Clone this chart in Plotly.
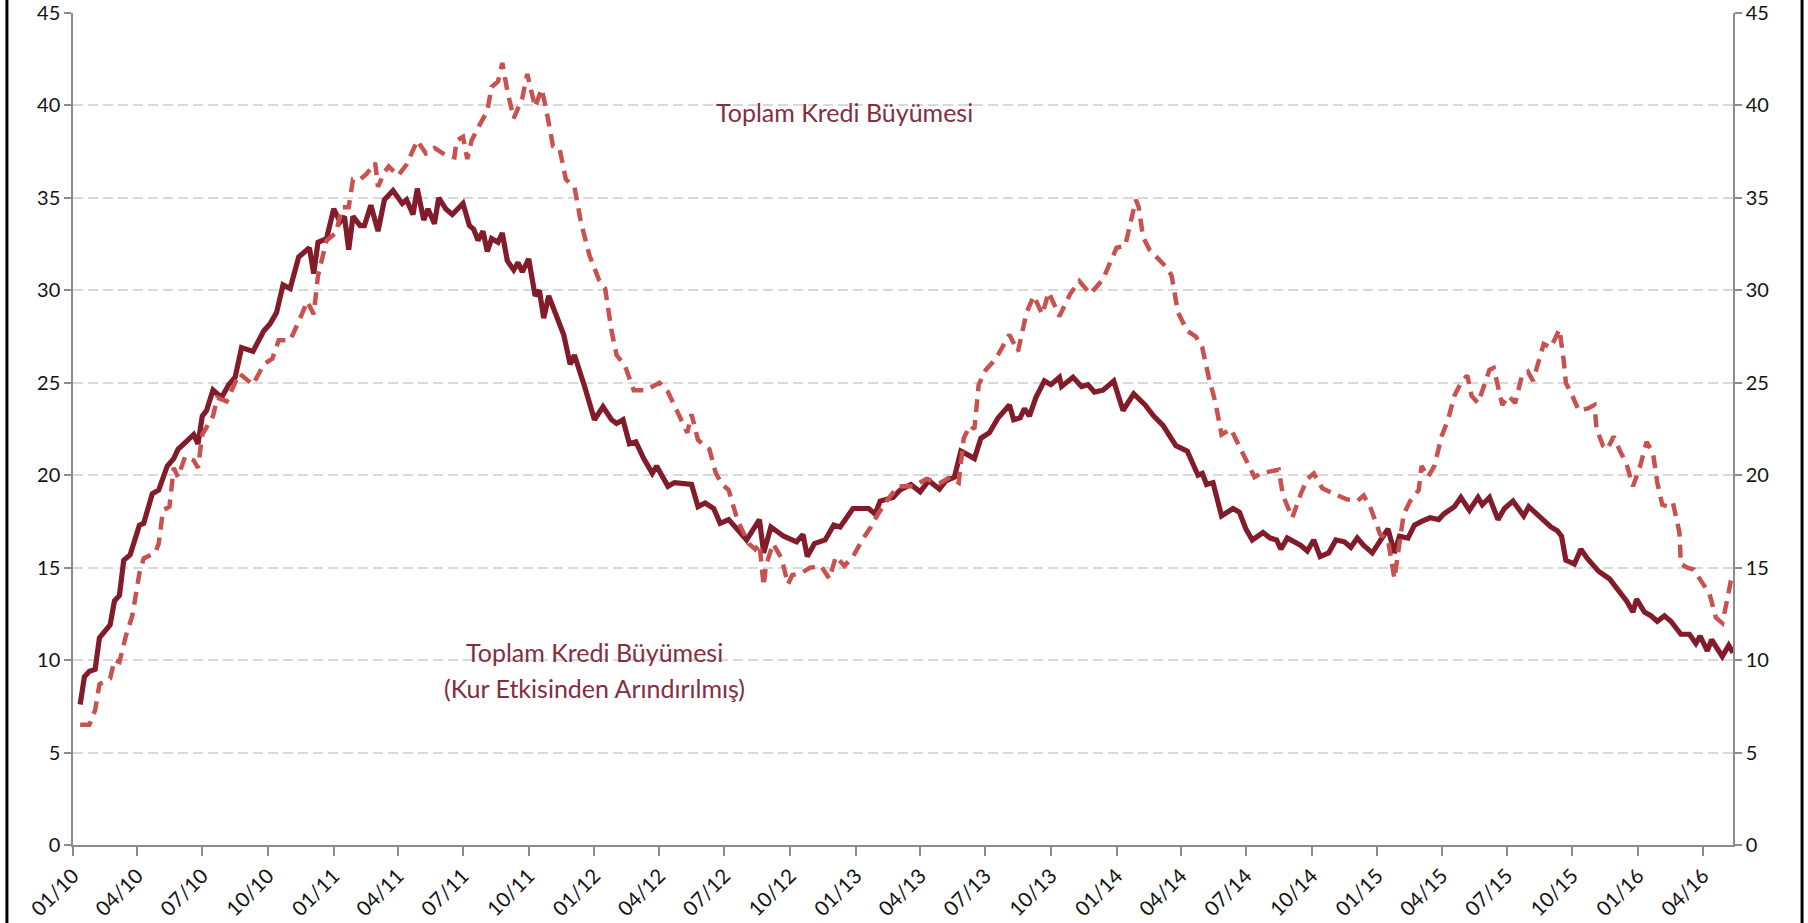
import plotly.graph_objects as go

# ---- Data: Toplam Kredi Büyümesi (Kur Etkisinden Arındırılmış) -- solid
adj_dates = [
    "2010-01-11","2010-01-17","2010-01-24","2010-02-01","2010-02-07","2010-02-22","2010-02-28","2010-03-07",
    "2010-03-13","2010-03-22","2010-04-04","2010-04-10","2010-04-22","2010-05-01","2010-05-13","2010-05-22",
    "2010-05-28","2010-06-07","2010-06-19","2010-06-25","2010-07-01","2010-07-07","2010-07-16","2010-07-28",
    "2010-08-07","2010-08-16","2010-08-25","2010-09-10","2010-09-25","2010-10-04","2010-10-13","2010-10-22",
    "2010-11-01","2010-11-13","2010-11-28","2010-12-04","2010-12-10","2010-12-22","2011-01-01","2011-01-10",
    "2011-01-16","2011-01-22","2011-01-28","2011-02-07","2011-02-13","2011-02-22","2011-03-04","2011-03-13",
    "2011-03-25","2011-04-07","2011-04-13","2011-04-22","2011-04-28","2011-05-07","2011-05-13","2011-05-22",
    "2011-05-28","2011-06-07","2011-06-16","2011-07-01","2011-07-10","2011-07-16","2011-07-22","2011-07-29",
    "2011-08-04","2011-08-10","2011-08-19","2011-08-25","2011-09-01","2011-09-10","2011-09-16","2011-09-22",
    "2011-10-01","2011-10-10","2011-10-16","2011-10-22","2011-10-29","2011-11-07","2011-11-19","2011-11-28",
    "2011-12-04","2011-12-19","2012-01-01","2012-01-13","2012-01-25","2012-02-01","2012-02-10","2012-02-19",
    "2012-02-28","2012-03-10","2012-03-22","2012-03-28","2012-04-13","2012-04-22","2012-05-07","2012-05-16",
    "2012-05-25","2012-06-04","2012-06-16","2012-06-25","2012-07-07","2012-08-01","2012-08-19","2012-08-25",
    "2012-09-04","2012-09-22","2012-10-10","2012-10-19","2012-10-25","2012-11-04","2012-11-19","2012-12-01",
    "2012-12-10","2012-12-28","2013-01-19","2013-01-28","2013-02-04","2013-02-22","2013-03-04","2013-03-19",
    "2013-04-01","2013-04-13","2013-04-28","2013-05-07","2013-05-19","2013-05-28","2013-06-07","2013-06-16",
    "2013-06-25","2013-07-07","2013-07-19","2013-08-04","2013-08-10","2013-08-19","2013-08-25","2013-09-01",
    "2013-09-10","2013-09-22","2013-10-01","2013-10-13","2013-10-16","2013-11-01","2013-11-13","2013-11-22",
    "2013-12-01","2013-12-13","2013-12-28","2014-01-10","2014-01-25","2014-02-10","2014-02-22","2014-03-07",
    "2014-03-25","2014-04-10","2014-04-25","2014-05-01","2014-05-07","2014-05-16","2014-05-28","2014-06-13",
    "2014-06-22","2014-07-01","2014-07-10","2014-07-25","2014-08-04","2014-08-13","2014-08-19","2014-08-28",
    "2014-09-16","2014-09-25","2014-10-04","2014-10-13","2014-10-25","2014-11-04","2014-11-16","2014-11-25",
    "2014-12-04","2014-12-13","2014-12-25","2015-01-05","2015-01-16","2015-01-25","2015-02-01","2015-02-13",
    "2015-02-22","2015-03-04","2015-03-16","2015-03-28","2015-04-04","2015-04-19","2015-04-28","2015-05-10",
    "2015-05-22","2015-05-28","2015-06-07","2015-06-19","2015-06-28","2015-07-10","2015-07-25","2015-08-01",
    "2015-08-13","2015-09-01","2015-09-10","2015-09-16","2015-09-22","2015-10-04","2015-10-13","2015-10-22",
    "2015-11-07","2015-11-22","2015-12-04","2015-12-16","2015-12-25","2015-12-30","2016-01-10","2016-01-19",
    "2016-01-28","2016-02-07","2016-02-16","2016-03-01","2016-03-13","2016-03-22","2016-03-28","2016-04-07",
    "2016-04-13","2016-04-28","2016-05-07","2016-05-13",
]
adj_values = [
    7.6, 9.1, 9.4, 9.5, 11.2, 11.9, 13.2, 13.5,
    15.4, 15.7, 17.3, 17.4, 19.0, 19.2, 20.5, 20.9,
    21.4, 21.8, 22.2, 21.7, 23.2, 23.5, 24.6, 24.2,
    24.9, 25.3, 26.9, 26.7, 27.8, 28.2, 28.8, 30.3,
    30.1, 31.8, 32.3, 30.9, 32.6, 32.8, 34.4, 33.7,
    34.0, 32.2, 34.0, 33.5, 33.5, 34.6, 33.2, 34.9,
    35.4, 34.7, 34.9, 34.1, 35.5, 33.8, 34.4, 33.6,
    35.0, 34.4, 34.1, 34.7, 33.5, 33.3, 32.7, 33.2,
    32.1, 32.8, 32.6, 33.1, 31.6, 31.1, 31.5, 31.0,
    31.7, 29.7, 30.0, 28.5, 29.7, 28.8, 27.6, 26.0,
    26.5, 24.7, 23.0, 23.7, 23.0, 22.8, 23.0, 21.7,
    21.8, 20.9, 20.1, 20.5, 19.4, 19.6, 19.5, 19.5,
    18.3, 18.5, 18.2, 17.4, 17.6, 16.5, 17.6, 15.8,
    17.2, 16.7, 16.4, 16.8, 15.6, 16.3, 16.5, 17.3,
    17.2, 18.2, 18.2, 17.9, 18.6, 18.8, 19.2, 19.5,
    19.1, 19.7, 19.25, 19.7, 19.9, 21.3, 21.1, 20.9,
    22.0, 22.3, 23.1, 23.8, 23.0, 23.1, 23.6, 23.2,
    24.2, 25.1, 24.9, 25.3, 24.8, 25.3, 24.8, 24.9,
    24.5, 24.6, 25.1, 23.5, 24.4, 23.8, 23.2, 22.7,
    21.6, 21.3, 20.0, 20.1, 19.5, 19.6, 17.8, 18.2,
    18.0, 17.1, 16.5, 16.9, 16.6, 16.5, 16.0, 16.6,
    16.2, 15.9, 16.5, 15.6, 15.8, 16.5, 16.4, 16.1,
    16.6, 16.2, 15.8, 16.5, 17.1, 15.8, 16.7, 16.6,
    17.3, 17.5, 17.7, 17.6, 17.9, 18.3, 18.8, 18.1,
    18.8, 18.4, 18.8, 17.6, 18.2, 18.6, 17.8, 18.3,
    17.9, 17.2, 17.0, 16.7, 15.4, 15.2, 16.0, 15.5,
    14.8, 14.4, 13.8, 13.2, 12.6, 13.3, 12.6, 12.4,
    12.1, 12.4, 12.1, 11.4, 11.4, 10.9, 11.3, 10.5,
    11.1, 10.2, 10.8, 10.4,
]

# ---- Data: Toplam Kredi Büyümesi -- dashed
tot_dates = [
    "2010-01-11","2010-01-24","2010-02-01","2010-02-07","2010-02-22","2010-02-28","2010-03-07","2010-03-16",
    "2010-03-25","2010-04-04","2010-04-10","2010-04-26","2010-05-01","2010-05-07","2010-05-16","2010-05-22",
    "2010-05-28","2010-06-07","2010-06-19","2010-06-25","2010-07-01","2010-07-07","2010-07-16","2010-07-22",
    "2010-08-04","2010-08-22","2010-09-10","2010-09-25","2010-10-07","2010-10-16","2010-11-01","2010-11-13",
    "2010-11-25","2010-12-04","2010-12-10","2010-12-22","2011-01-04","2011-01-13","2011-01-22","2011-01-28",
    "2011-02-07","2011-02-16","2011-02-28","2011-03-04","2011-03-13","2011-03-19","2011-04-01","2011-04-13",
    "2011-04-28","2011-05-10","2011-05-22","2011-06-07","2011-06-19","2011-06-22","2011-07-01","2011-07-07",
    "2011-07-13","2011-07-25","2011-08-04","2011-08-10","2011-08-19","2011-08-25","2011-09-01","2011-09-10",
    "2011-09-22","2011-09-29","2011-10-10","2011-10-19","2011-10-25","2011-11-04","2011-11-13","2011-11-22",
    "2011-12-04","2011-12-13","2011-12-25","2012-01-07","2012-01-16","2012-01-25","2012-02-01","2012-02-13",
    "2012-02-25","2012-03-13","2012-04-01","2012-04-13","2012-04-28","2012-05-10","2012-05-16","2012-05-25",
    "2012-06-10","2012-06-19","2012-06-28","2012-07-07","2012-07-19","2012-08-04","2012-08-13","2012-08-19",
    "2012-08-25","2012-08-28","2012-09-07","2012-09-19","2012-09-28","2012-10-04","2012-10-16","2012-10-29",
    "2012-11-13","2012-11-25","2012-12-04","2012-12-16","2012-12-28","2013-01-10","2013-01-22","2013-02-01",
    "2013-02-13","2013-03-01","2013-03-22","2013-04-10","2013-04-28","2013-05-13","2013-05-25","2013-06-01",
    "2013-06-10","2013-06-16","2013-06-22","2013-07-02","2013-07-16","2013-08-01","2013-08-04","2013-08-16",
    "2013-08-28","2013-09-07","2013-09-19","2013-09-28","2013-10-13","2013-10-28","2013-11-10","2013-11-25",
    "2013-12-13","2014-01-01","2014-01-13","2014-01-22","2014-01-28","2014-02-01","2014-02-07","2014-02-16",
    "2014-02-28","2014-03-13","2014-03-19","2014-03-28","2014-04-10","2014-04-22","2014-05-01","2014-05-10",
    "2014-05-19","2014-05-28","2014-06-10","2014-06-22","2014-07-04","2014-07-13","2014-07-22","2014-08-16",
    "2014-08-22","2014-09-04","2014-09-16","2014-09-25","2014-10-04","2014-10-16","2014-11-01","2014-11-19",
    "2014-12-04","2014-12-13","2014-12-22","2015-01-05","2015-01-16","2015-01-25","2015-02-01","2015-02-07",
    "2015-02-16","2015-02-28","2015-03-04","2015-03-13","2015-03-22","2015-04-01","2015-04-10","2015-04-19",
    "2015-04-28","2015-05-07","2015-05-13","2015-05-22","2015-06-01","2015-06-07","2015-06-13","2015-06-19",
    "2015-06-25","2015-07-04","2015-07-13","2015-07-22","2015-07-31","2015-08-07","2015-08-16","2015-08-22",
    "2015-09-01","2015-09-13","2015-09-19","2015-09-22","2015-10-01","2015-10-10","2015-10-22","2015-11-01",
    "2015-11-04","2015-11-13","2015-11-19","2015-11-28","2015-12-07","2015-12-16","2015-12-25","2016-01-04",
    "2016-01-13","2016-01-22","2016-01-28","2016-02-04","2016-02-13","2016-02-19","2016-02-28","2016-03-01",
    "2016-03-10","2016-03-19","2016-03-29","2016-04-10","2016-04-19","2016-04-28","2016-05-04","2016-05-10",
    "2016-05-13",
]
tot_values = [
    6.5, 6.5, 7.3, 8.7, 9.0, 10.0, 9.9, 11.3,
    12.4, 14.7, 15.5, 15.8, 16.3, 18.1, 18.3, 20.4,
    19.9, 21.0, 20.8, 20.4, 22.2, 22.6, 23.2, 24.2,
    24.0, 25.5, 24.9, 26.0, 26.3, 27.3, 27.3, 28.3,
    29.4, 28.7, 30.8, 32.7, 33.1, 34.5, 34.5, 36.0,
    36.0, 36.3, 36.9, 35.6, 36.4, 36.7, 36.2, 36.8,
    38.1, 37.4, 37.7, 37.3, 37.2, 38.1, 38.3, 37.1,
    38.1, 39.0, 39.7, 41.0, 41.3, 42.3, 40.8, 39.3,
    40.4, 41.7, 39.9, 40.9, 39.9, 37.8, 37.7, 36.0,
    35.6, 33.7, 31.9, 30.6, 30.1, 27.8, 26.5, 25.9,
    24.6, 24.6, 25.0, 24.5, 23.2, 22.3, 23.3, 21.9,
    21.4, 20.1, 19.5, 19.2, 17.6, 16.3, 16.0, 16.3,
    14.0, 15.1, 16.3, 15.5, 14.1, 14.6, 14.7, 15.0,
    15.1, 14.4, 15.6, 15.1, 15.6, 16.5, 17.2, 17.9,
    18.6, 19.4, 19.4, 19.8, 19.55, 19.9, 19.6, 22.0,
    22.7, 22.5, 24.9, 25.7, 26.3, 27.3, 27.6, 26.7,
    28.8, 29.7, 28.7, 29.9, 28.6, 29.8, 30.5, 29.8,
    30.6, 32.3, 32.4, 33.9, 34.9, 34.5, 32.9, 32.2,
    31.7, 31.2, 30.8, 28.8, 27.8, 27.5, 26.9, 25.3,
    24.0, 22.2, 22.5, 21.6, 20.6, 19.9, 20.1, 20.3,
    18.9, 17.7, 19.0, 19.8, 20.1, 19.3, 19.0, 18.7,
    18.6, 18.9, 18.3, 16.8, 16.5, 14.4, 16.3, 17.9,
    18.6, 19.2, 20.5, 19.9, 20.5, 22.1, 23.0, 24.3,
    25.0, 25.4, 24.3, 23.9, 25.0, 25.7, 25.8, 24.7,
    23.8, 24.3, 23.9, 25.3, 25.6, 25.1, 26.2, 27.1,
    26.9, 27.9, 26.2, 25.0, 24.3, 23.5, 23.6, 23.8,
    22.5, 21.6, 21.4, 22.1, 21.3, 20.6, 19.4, 20.5,
    21.8, 21.2, 19.6, 18.4, 18.3, 18.5, 16.9, 15.2,
    15.0, 14.9, 14.3, 13.6, 12.3, 12.0, 13.1, 14.3,
    14.5,
]

y_ticks = [0, 5, 10, 15, 20, 25, 30, 35, 40, 45]
x_start, x_end = "2010-01-01", "2016-05-13"
label_total = "Toplam Kredi Büyümesi"
label_adj_1 = "Toplam Kredi Büyümesi"
label_adj_2 = "(Kur Etkisinden Arındırılmış)"

SOLID = "rgb(130,27,42)"
DASHED = "rgb(200,82,80)"
TEXT = "rgb(132,46,64)"
AXIS = "#8c8c8c"
GRID = "#d9d9d9"
FONT = "Lato, 'Open Sans', sans-serif"

fig = go.Figure()
fig.add_trace(go.Scatter(
    x=tot_dates, y=tot_values, mode="lines", yaxis="y2",
    line=dict(color=DASHED, width=4.5, dash="13px,8px"), name=label_total,
))
fig.add_trace(go.Scatter(
    x=adj_dates, y=adj_values, mode="lines",
    line=dict(color=SOLID, width=5.2), name=label_adj_1,
))

common_y = dict(
    range=[0, 45], tickvals=y_ticks, showgrid=True, gridcolor=GRID, griddash="10px,5px",
    gridwidth=1.5, showline=True, linecolor=AXIS, linewidth=1.5, ticks="outside",
    ticklen=7, tickcolor=AXIS, tickwidth=1.5, zeroline=False, automargin=False,
    tickfont=dict(family=FONT, size=20, color="#141414"), fixedrange=True,
)

fig.update_layout(
    width=1808, height=923,
    margin=dict(l=73, r=75, t=13, b=78),
    paper_bgcolor="white", plot_bgcolor="white",
    showlegend=False,
    font=dict(family=FONT),
    xaxis=dict(
        type="date", range=[x_start, x_end], tick0="2010-01-01", dtick="M3",
        tickformat="%m/%y", tickangle=-45, ticks="outside", ticklen=9,
        tickcolor=AXIS, tickwidth=1.5, showline=True, linecolor=AXIS, linewidth=1.5,
        showgrid=False, zeroline=False, automargin=False,
        tickfont=dict(family=FONT, size=20.5, color="#141414"),
    ),
    yaxis=dict(side="left", **common_y),
    yaxis2=dict(side="right", overlaying="y", **common_y),
    annotations=[
        dict(text=label_total, x=0.4645, y=0.881, xref="paper", yref="paper",
             xanchor="center", yanchor="middle",
             showarrow=False, font=dict(family=FONT, size=25, color=TEXT)),
        dict(text=label_adj_1, x=0.3139, y=0.232, xref="paper", yref="paper",
             xanchor="center", yanchor="middle",
             showarrow=False, font=dict(family=FONT, size=25, color=TEXT)),
        dict(text=label_adj_2, x=0.3139, y=0.189, xref="paper", yref="paper",
             xanchor="center", yanchor="middle",
             showarrow=False, font=dict(family=FONT, size=25, color=TEXT)),
    ],
    shapes=[
        dict(type="line", xref="paper", yref="paper", x0=-0.0398, x1=-0.0398,
             y0=-0.1, y1=1.02, line=dict(color="black", width=3)),
        dict(type="line", xref="paper", yref="paper", x0=1.0416, x1=1.0416,
             y0=-0.1, y1=1.02, line=dict(color="black", width=3)),
    ],
)

fig.write_html(
    "out.html",
    config={"displayModeBar": False},
    post_script="document.body.style.margin='0';document.body.style.overflow='hidden';",
)
